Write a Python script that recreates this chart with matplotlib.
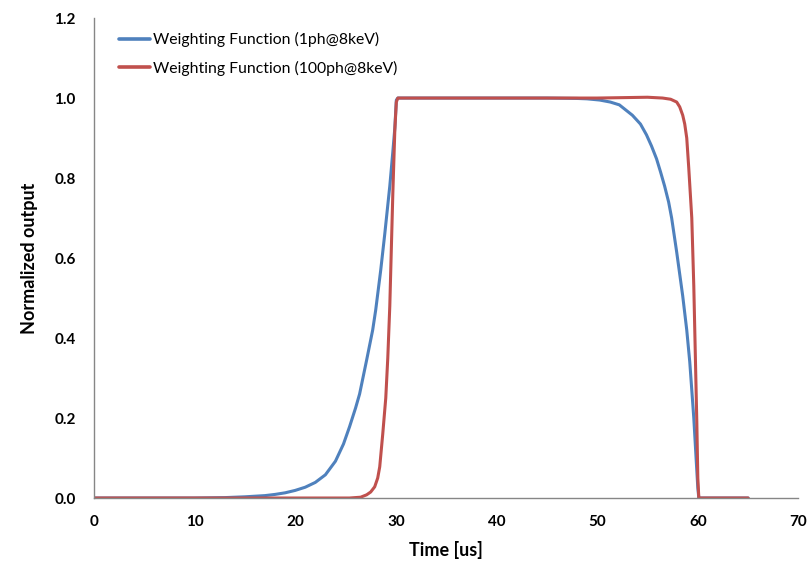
import matplotlib
matplotlib.use('Agg')
import matplotlib.pyplot as plt

# weighting function, single photon at 8 keV
t_1ph = [0, 5, 10, 13, 15, 17, 18, 19, 20, 21, 22, 23, 24, 24.8, 25.4, 26.0, 26.4,
         27.1, 27.7, 28.0, 28.5, 28.9, 29.4, 29.7, 29.9, 30.05, 30.2, 35, 40, 45, 48, 49,
         50.25, 51.3, 52.2, 53.5, 54.3, 54.9, 55.4, 55.9, 56.3, 56.7, 57.1, 57.4, 57.9,
         58.2, 58.5, 58.9, 59.2, 59.6, 59.85, 60.0, 60.1, 65]
w_1ph = [0, 0, 0, 0.001, 0.003, 0.006, 0.009, 0.013, 0.019, 0.027, 0.039, 0.058, 0.092,
         0.135, 0.178, 0.225, 0.26, 0.345, 0.42, 0.47, 0.57, 0.66, 0.78, 0.865, 0.925,
         0.995, 1.0, 1.0, 1.0, 1.0, 0.999, 0.998, 0.995, 0.99, 0.983, 0.957, 0.935, 0.908,
         0.88, 0.848, 0.815, 0.78, 0.74, 0.70, 0.615, 0.56, 0.505, 0.42, 0.34, 0.2, 0.09,
         0.025, 0.0, 0.0]

# weighting function, 100 photons at 8 keV
t_100ph = [0, 10, 20, 25.4, 26.5, 27.1, 27.5, 27.9, 28.2, 28.4, 28.7, 29.0, 29.2, 29.4,
           29.55, 29.7, 29.9, 30.05, 30.2, 40, 50, 55, 56.5, 57.3, 57.9, 58.2, 58.5, 58.7,
           58.9, 59.1, 59.4, 59.6, 59.75, 59.9, 60.0, 60.1, 65]
w_100ph = [0, 0, 0, 0, 0.002, 0.008, 0.015, 0.028, 0.05, 0.078, 0.16, 0.25, 0.35, 0.48,
           0.62, 0.76, 0.92, 0.99, 1.0, 1.0, 1.0, 1.002, 1.0, 0.997, 0.99, 0.978, 0.957,
           0.935, 0.9, 0.825, 0.70, 0.53, 0.36, 0.19, 0.05, 0.0, 0.0]

labels = ['Weighting Function (1ph@8keV)', 'Weighting Function (100ph@8keV)']
colors = ['#4F81BD', '#C0504D']

plt.rcParams['font.family'] = ['Lato', 'DejaVu Sans']

fig = plt.figure(figsize=(8.09, 5.64), dpi=100)
ax = fig.add_axes([0.116, 0.117, 0.871, 0.851])

ax.plot(t_1ph, w_1ph, color=colors[0], lw=2.2, label=labels[0],
        solid_joinstyle='round', solid_capstyle='round')
ax.plot(t_100ph, w_100ph, color=colors[1], lw=2.2, label=labels[1],
        solid_joinstyle='round', solid_capstyle='round')

ax.set_xlim(0, 70)
ax.set_ylim(0, 1.2)
ax.set_xticks(range(0, 71, 10))
ax.set_yticks([0, 0.2, 0.4, 0.6, 0.8, 1.0, 1.2])
ax.set_yticklabels(['%.1f' % v for v in ax.get_yticks()])

for side in ['top', 'right']:
    ax.spines[side].set_visible(False)
for side in ['left', 'bottom']:
    ax.spines[side].set_color('#868686')
    ax.spines[side].set_linewidth(1.0)

ax.tick_params(axis='both', length=0, labelsize=11)
ax.tick_params(axis='y', pad=13)
ax.tick_params(axis='x', pad=12)
for lab in ax.get_xticklabels() + ax.get_yticklabels():
    lab.set_fontweight('bold')

ax.set_xlabel('Time [us]', fontsize=13, fontweight='bold', labelpad=9)
ax.set_ylabel('Normalized output', fontsize=13, fontweight='bold', labelpad=12)

leg = ax.legend(loc='upper left', bbox_to_anchor=(0.015, 1.0), frameon=False,
                fontsize=11.3, handlelength=2.0, handletextpad=0.2, labelspacing=0.85)
for h in leg.get_lines():
    h.set_linewidth(2.6)

plt.savefig('out.png', dpi=100)
